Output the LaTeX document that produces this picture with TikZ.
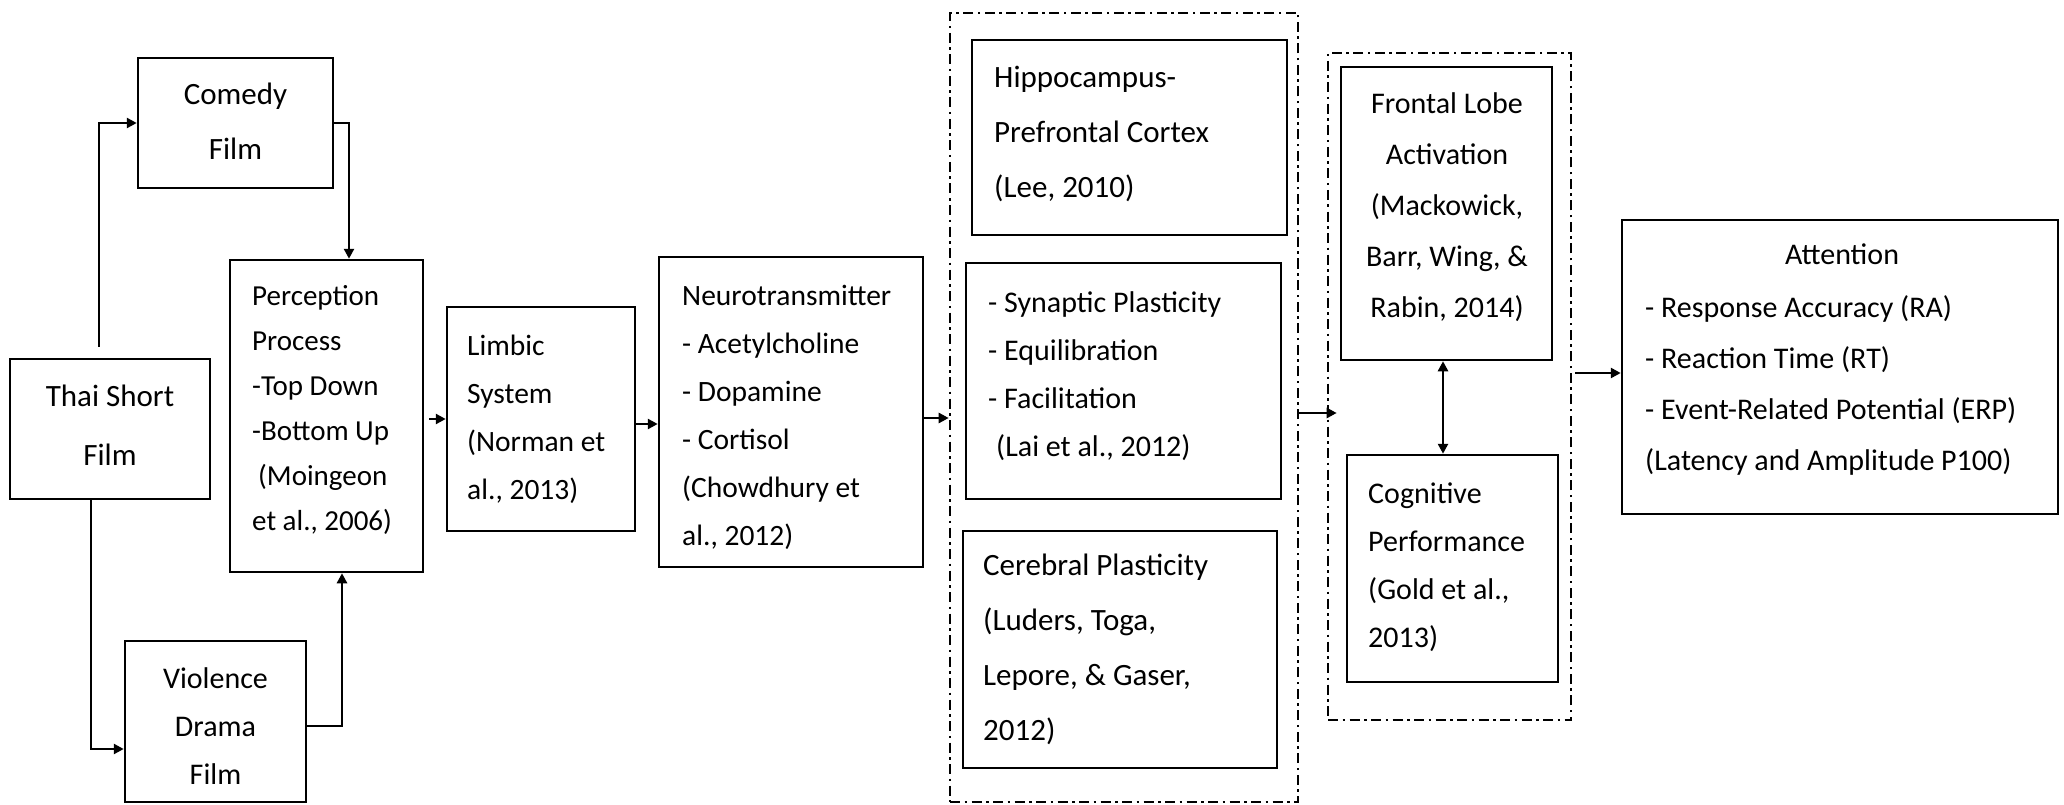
\documentclass[tikz,border=0pt]{standalone}
\usepackage{fontspec}
\setmainfont{Carlito}
\usetikzlibrary{arrows.meta}
\begin{document}
\begin{tikzpicture}[x=1pt,y=-1pt,
  box/.style={draw, line width=2.5pt, inner sep=0pt},
  grp/.style={draw, line width=2.6pt, inner sep=0pt, dash pattern=on 10pt off 4.5pt on 2.5pt off 4.5pt},
  txt/.style={inner sep=0pt, align=left, anchor=base west},
  ctxt/.style={inner sep=0pt, align=center, anchor=base},
  arr/.style={line width=2.5pt, -{Triangle[length=10pt,width=10pt]}},
  arrr/.style={line width=2.5pt, {Triangle[length=10pt,width=10pt]}-{Triangle[length=10pt,width=10pt]}},
  ]
\useasboundingbox (0,0) rectangle (2064,805);

% boxes
\node[box, minimum width=200pt, minimum height=140pt] (thai) at (110,429) {};
\node[box, minimum width=195pt, minimum height=130pt] (comedy) at (235.5,123) {};
\node[box, minimum width=181pt, minimum height=161pt] (viol) at (215.5,721.5) {};
\node[box, minimum width=193pt, minimum height=312pt] (percep) at (326.5,416) {};
\node[box, minimum width=188pt, minimum height=224pt] (limbic) at (541,419) {};
\node[box, minimum width=264pt, minimum height=310pt] (neuro) at (791,412) {};
\node[grp, minimum width=348pt, minimum height=789pt] (grp1) at (1124,407.5) {};
\node[box, minimum width=315pt, minimum height=195pt] (hippo) at (1129.5,137.5) {};
\node[box, minimum width=315pt, minimum height=236pt] (syn) at (1123.5,381) {};
\node[box, minimum width=314pt, minimum height=237pt] (cereb) at (1120,649.5) {};
\node[grp, minimum width=243pt, minimum height=667pt] (grp2) at (1449.5,386.5) {};
\node[box, minimum width=211pt, minimum height=293pt] (frontal) at (1446.5,213.5) {};
\node[box, minimum width=211pt, minimum height=227pt] (cog) at (1452.5,568.5) {};
\node[box, minimum width=436pt, minimum height=294pt] (att) at (1840,367) {};

% texts (anchor = baseline of the last line)
\node[ctxt, font=\fontsize{31}{59}\selectfont] (thaiT) at (110,465) {Thai Short\\Film};
\node[ctxt, font=\fontsize{31}{55}\selectfont] (comedyT) at (235.5,160) {Comedy\\Film};
\node[ctxt, font=\fontsize{30}{48}\selectfont] (violT) at (215.5,784) {Violence\\Drama\\Film};
\node[txt, font=\fontsize{29}{45}\selectfont] (percepT) at (252,530) {Perception\\Process\\-Top Down\\-Bottom Up\\\hspace*{6pt}(Moingeon\\et al., 2006)};
\node[txt, font=\fontsize{29.5}{48}\selectfont] (limbicT) at (467,499) {Limbic\\System\\(Norman et\\al., 2013)};
\node[txt, font=\fontsize{29.5}{48}\selectfont] (neuroT) at (682,545) {Neurotransmitter\\- Acetylcholine\\- Dopamine\\- Cortisol\\(Chowdhury et\\al., 2012)};
\node[txt, font=\fontsize{31}{55}\selectfont] (hippoT) at (994,198) {Hippocampus-\\Prefrontal Cortex\\(Lee, 2010)};
\node[txt, font=\fontsize{30}{48}\selectfont] (synT) at (988,456) {- Synaptic Plasticity\\- Equilibration\\- Facilitation\\\hspace*{8pt}(Lai et al., 2012)};
\node[txt, font=\fontsize{31}{55}\selectfont] (cerebT) at (983,740) {Cerebral Plasticity\\(Luders, Toga,\\Lepore, \& Gaser,\\2012)};
\node[ctxt, font=\fontsize{30}{51}\selectfont] (frontalT) at (1447,317) {Frontal Lobe\\Activation\\(Mackowick,\\Barr, Wing, \&\\Rabin, 2014)};
\node[txt, font=\fontsize{30}{48}\selectfont] (cogT) at (1368,647) {Cognitive\\Performance\\(Gold et al.,\\2013)};
\node[ctxt, font=\fontsize{30}{51}\selectfont] (attT) at (1842,265) {Attention};
\node[txt, font=\fontsize{30}{51}\selectfont] (attL) at (1645,470) {- Response Accuracy (RA)\\- Reaction Time (RT)\\- Event-Related Potential (ERP)\\(Latency and Amplitude P100)};

% connectors
\draw[arr] ([xshift=-11pt,yshift=11pt]thai.north) |- (comedy.west);
\draw[arr] (comedy.east) -| ([xshift=22.5pt]percep.north);
\draw[arr] ([xshift=-19pt]thai.south) |- ([yshift=-27.5pt]viol.west);
\draw[arr] ([yshift=-4.5pt]viol.east) -| ([xshift=15.5pt]percep.south);
\draw[arr] (percep.east |- limbic.west) ++(5,0) -- (limbic.west);
\coordinate (c6) at ([yshift=-5pt]limbic.east);
\draw[arr] (c6) -- (c6 -| neuro.west);
\coordinate (c7) at ([yshift=-6pt]neuro.east);
\draw[arr] (c7) -- (c7 -| grp1.west);
\coordinate (c8) at ([yshift=-5.5pt]grp1.east);
\draw[arr] (c8) -- (c8 -| grp2.west) -- ++(10,0);
\coordinate (c9) at ([xshift=-3.5pt]frontal.south);
\draw[arrr] (c9) -- (c9 |- cog.north);
\coordinate (c10) at ([xshift=3pt,yshift=13.5pt]grp2.east);
\draw[arr] (c10) -- (c10 -| att.west);
\end{tikzpicture}
\end{document}
